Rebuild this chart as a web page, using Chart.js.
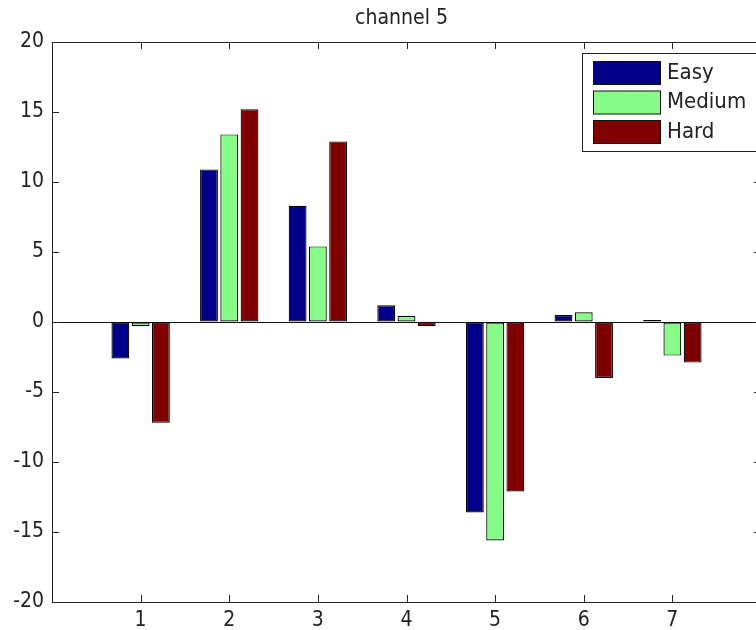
<!DOCTYPE html>
<html>
<head>
<meta charset="utf-8">
<title>channel 5</title>
<script src="https://cdn.jsdelivr.net/npm/chart.js@4/dist/chart.umd.min.js"></script>
<style>
  html, body { margin: 0; padding: 0; background: #fff; overflow: hidden; }
  #wrap { width: 764px; height: 630px; }
</style>
</head>
<body>
<div id="wrap"><canvas id="barChart"></canvas></div>
<script>
// Chart data
const chartTitle = 'channel 5';
const categories = ['1', '2', '3', '4', '5', '6', '7'];
const seriesNames = ['Easy', 'Medium', 'Hard'];
const easyValues = [-2.6, 10.9, 8.3, 1.2, -13.6, 0.5, 0.15];
const mediumValues = [-0.3, 13.4, 5.4, 0.45, -15.6, 0.7, -2.4];
const hardValues = [-7.2, 15.2, 12.9, -0.3, -12.1, -4.0, -2.9];
const yTicks = [-20, -15, -10, -5, 0, 5, 10, 15, 20];

const seriesColors = ['#00008a', '#88fc88', '#800000'];
const fontFamily = "'Liberation Sans Narrow', 'DejaVu Sans Condensed', 'Liberation Sans', sans-serif";

// Bars sit at x = 1..7 on a 0..8 axis, like the original figure
function toPoints(values) {
  return values.map((v, i) => ({ x: i + 1, y: v }));
}

// Draws the box, inward ticks, title and the boxed legend
const matlabFrame = {
  id: 'matlabFrame',
  afterDraw(chart) {
    const ctx = chart.ctx;
    const area = chart.chartArea;
    const xs = chart.scales.x;
    const ys = chart.scales.y;
    const tickLen = 7;

    ctx.save();
    ctx.strokeStyle = '#222';
    ctx.lineWidth = 1;

    // top and right edges of the box
    ctx.beginPath();
    ctx.moveTo(area.left, area.top + 0.5);
    ctx.lineTo(area.right, area.top + 0.5);
    ctx.moveTo(area.right - 0.5, area.top);
    ctx.lineTo(area.right - 0.5, area.bottom);
    ctx.stroke();

    // inward tick marks
    ctx.beginPath();
    categories.forEach((c, i) => {
      const px = Math.round(xs.getPixelForValue(i + 1)) + 0.5;
      ctx.moveTo(px, area.bottom);
      ctx.lineTo(px, area.bottom - tickLen);
      ctx.moveTo(px, area.top);
      ctx.lineTo(px, area.top + tickLen);
    });
    yTicks.forEach(v => {
      const py = Math.round(ys.getPixelForValue(v)) + 0.5;
      ctx.moveTo(area.left, py);
      ctx.lineTo(area.left + tickLen, py);
      ctx.moveTo(area.right, py);
      ctx.lineTo(area.right - tickLen, py);
    });
    ctx.stroke();

    // title
    ctx.fillStyle = '#222';
    ctx.font = '21px ' + fontFamily;
    ctx.textAlign = 'center';
    ctx.textBaseline = 'middle';
    ctx.fillText(chartTitle, (area.left + area.right) / 2 - 5, 19);

    // legend box
    const boxLeft = 582.5, boxTop = 53.5;
    ctx.fillStyle = '#fff';
    ctx.fillRect(boxLeft, boxTop, 200, 98);
    ctx.strokeStyle = '#222';
    ctx.strokeRect(boxLeft, boxTop, 200, 98);

    ctx.font = '22px ' + fontFamily;
    ctx.textAlign = 'left';
    chart.data.datasets.forEach((ds, i) => {
      const top = 61 + i * 29.5;
      ctx.fillStyle = ds.backgroundColor;
      ctx.fillRect(593.5, top + 0.5, 67, 23);
      ctx.strokeStyle = '#111';
      ctx.strokeRect(593.5, top + 0.5, 67, 23);
      ctx.fillStyle = '#222';
      ctx.fillText(ds.label, 667, top + 12);
    });
    ctx.restore();
  }
};

function initializeBarChart() {
  const ctx = document.getElementById('barChart').getContext('2d');
  const valueSets = [easyValues, mediumValues, hardValues];

  const data = {
    datasets: seriesNames.map((name, i) => ({
      label: name,
      data: toPoints(valueSets[i]),
      backgroundColor: seriesColors[i],
      borderColor: '#000',
      borderWidth: 1.2,
      borderSkipped: false,
      categoryPercentage: 0.686,
      barPercentage: 0.88
    }))
  };

  const options = {
    responsive: true,
    maintainAspectRatio: false,
    animation: false,
    layout: {
      padding: { top: 42, right: 3, left: 0, bottom: 0 }
    },
    plugins: {
      legend: { display: false },
      title: { display: false },
      tooltip: { enabled: false }
    },
    scales: {
      x: {
        type: 'linear',
        min: 0,
        max: 8,
        offset: false,
        afterFit: scale => { scale.height = 28; },
        afterBuildTicks: scale => {
          scale.ticks = categories.map((c, i) => ({ value: i + 1 }));
        },
        ticks: {
          padding: 6,
          color: '#222',
          font: { family: fontFamily, size: 21 },
          callback: value => categories[value - 1] || ''
        },
        grid: { display: false, drawTicks: false, offset: false },
        border: { display: true, color: '#222', width: 1 }
      },
      y: {
        min: -20,
        max: 20,
        afterFit: scale => { scale.width = 52; },
        afterBuildTicks: scale => {
          scale.ticks = yTicks.map(v => ({ value: v }));
        },
        ticks: {
          padding: 8,
          color: '#222',
          font: { family: fontFamily, size: 21 }
        },
        grid: {
          drawTicks: false,
          color: c => (c.tick && c.tick.value === 0 ? '#111' : 'rgba(0,0,0,0)'),
          lineWidth: 1
        },
        border: { display: true, color: '#222', width: 1 }
      }
    }
  };

  window.barChart = new Chart(ctx, {
    type: 'bar',
    data: data,
    options: options,
    plugins: [matlabFrame]
  });
}

initializeBarChart();
</script>
</body>
</html>
